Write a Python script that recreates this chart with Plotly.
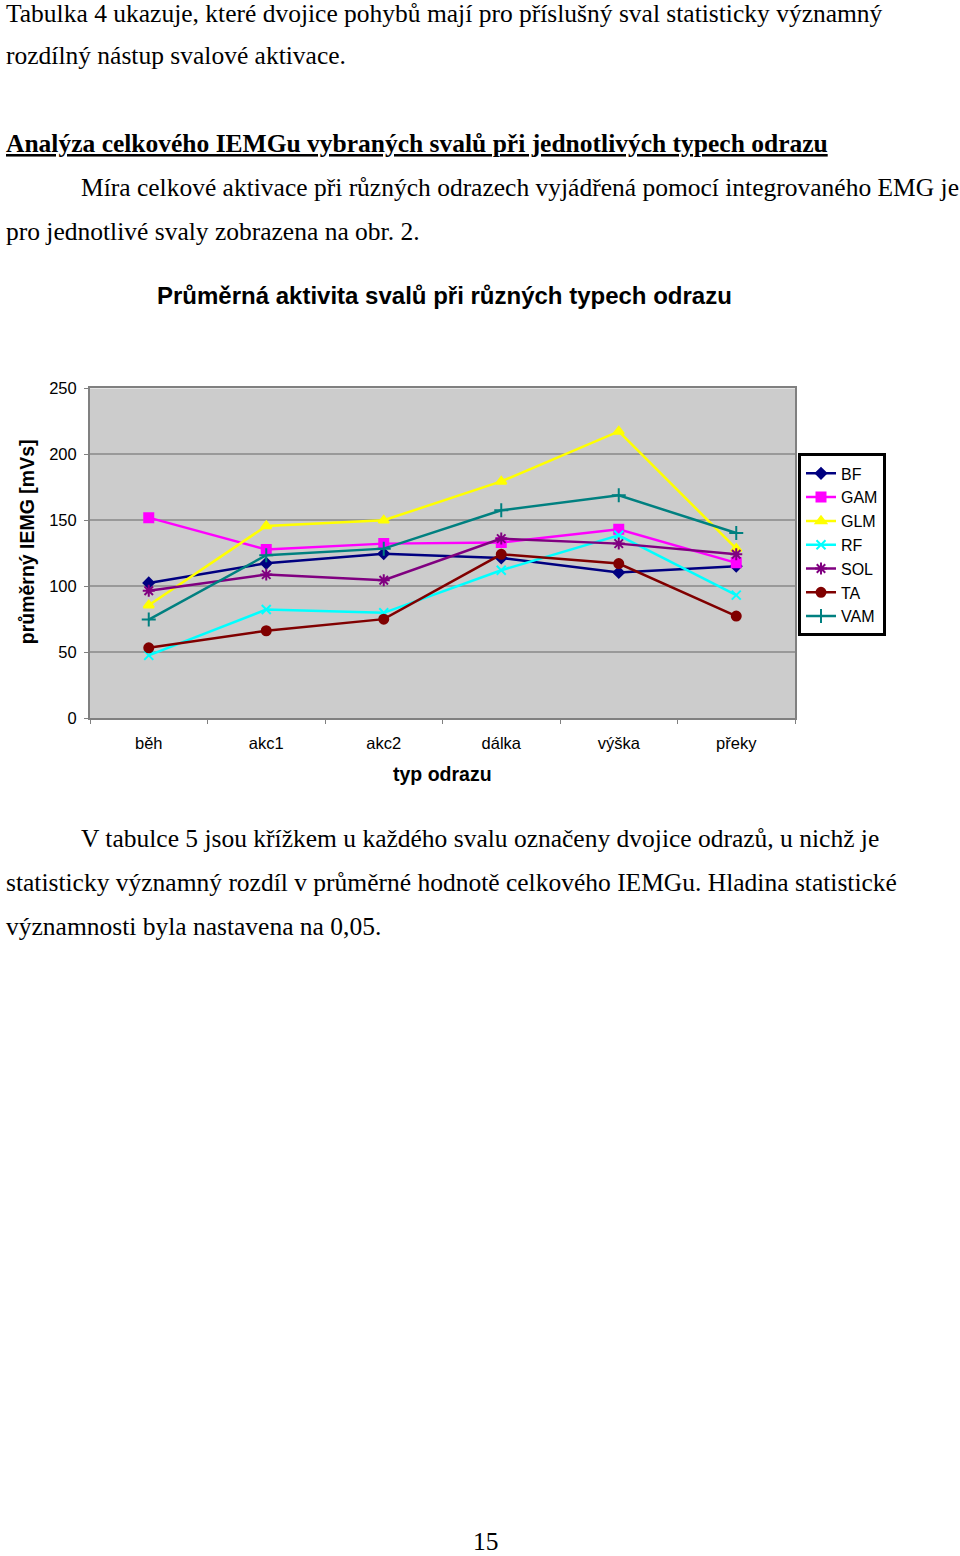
import plotly.graph_objects as go

categories = ["běh", "akc1", "akc2", "dálka", "výška", "překy"]
BF  = [102.5, 117.4, 124.7, 121.4, 110.4, 115.2]
GAM = [152.0, 127.8, 132.3, 133.1, 143.2, 117.7]
GLM = [85.6, 145.7, 150.0, 179.5, 217.4, 128.5]
RF  = [47.5, 82.3, 79.8, 112.1, 138.6, 93.2]
SOL = [96.5, 108.8, 104.5, 136.1, 132.3, 124.2]
TA  = [53.3, 66.2, 75.0, 124.2, 117.2, 77.3]
VAM = [74.7, 123.5, 128.5, 157.6, 168.9, 140.4]
y_ticks = [0, 50, 100, 150, 200, 250]

W, H = 960, 1556
# observed render mapping: rendered_y = 0.9898*fig_y + 8  -> invert
def Y(y):
    return (y - 8) / 0.9898
def px(x, y):
    return x / W, 1 - Y(y) / H

series = [
    ("BF", BF, "#000080", "diamond", 8),
    ("GAM", GAM, "#FF00FF", "square", 9),
    ("GLM", GLM, "#FFFF00", "triangle-up", 9),
    ("RF", RF, "#00FFFF", "x-thin", 9),
    ("SOL", SOL, "#800080", "asterisk", 10),
    ("TA", TA, "#800000", "circle", 9),
    ("VAM", VAM, "#008080", "cross-thin", 10),
]

fig = go.Figure()
for name, vals, col, sym, sz in series:
    fig.add_trace(go.Scatter(
        x=categories, y=vals, name=name, mode="lines+markers",
        line=dict(color=col, width=2.5),
        marker=dict(symbol=sym, size=sz, color=col, line=dict(color=col, width=2)),
    ))

x0, x1 = 90, 795
y0, y1 = 388, 718
lx, ly = px(798, 453)
fig.update_layout(
    width=W, height=H,
    margin=dict(l=0, r=0, t=0, b=0),
    paper_bgcolor="white", plot_bgcolor="#CCCCCC",
    font=dict(family="Liberation Sans, Arial", color="black"),
    showlegend=True,
    legend=dict(x=lx, y=ly, xanchor="left", yanchor="top",
                bordercolor="black", borderwidth=3, bgcolor="white",
                font=dict(size=16, family="Liberation Sans, Arial"),
                tracegroupgap=0, itemwidth=30),
    xaxis=dict(domain=[x0 / W, x1 / W], type="category", range=[-0.5, 5.5],
               showgrid=False, showline=True, linecolor="#808080", linewidth=2, mirror=True,
               ticks="outside", ticklen=4, tickcolor="#808080", tickson="boundaries",
               tickfont=dict(size=16.5), ticklabelstandoff=9),
    yaxis=dict(domain=[1 - Y(y1) / H, 1 - Y(y0) / H], range=[0, 250], tickvals=y_ticks,
               showgrid=True, gridcolor="#999999", gridwidth=1.5,
               showline=True, linecolor="#808080", linewidth=2, mirror=True,
               ticks="outside", ticklen=4, tickcolor="#808080",
               tickfont=dict(size=16.5), ticklabelstandoff=4, zeroline=False),
)

serif = "Liberation Serif, Times New Roman"
texts = [
    (5, 13, "Tabulka 4 ukazuje, které dvojice pohybů mají pro příslušný sval statisticky významný"),
    (5, 55, "rozdílný nástup svalové aktivace."),
    (5, 143, "<b><u>Analýza celkového IEMGu vybraných svalů při jednotlivých typech odrazu</u></b>"),
    (80, 187, "Míra celkové aktivace při různých odrazech vyjádřená pomocí integrovaného EMG je"),
    (5, 231, "pro jednotlivé svaly zobrazena na obr. 2."),
    (80, 839, "V tabulce 5 jsou křížkem u každého svalu označeny dvojice odrazů, u nichž je"),
    (5, 883, "statisticky významný rozdíl v průměrné hodnotě celkového IEMGu. Hladina statistické"),
    (5, 927, "významnosti byla nastavena na 0,05."),
]
for x, y, t in texts:
    ax, ay = px(x, y)
    fig.add_annotation(x=ax, y=ay, xref="paper", yref="paper", text=t, showarrow=False,
                       xanchor="left", yanchor="middle", borderpad=0,
                       font=dict(family=serif, size=25.5, color="black"))

ax, ay = px(486, 1543)
fig.add_annotation(x=ax, y=ay, xref="paper", yref="paper", text="15", showarrow=False,
                   xanchor="center", yanchor="middle", borderpad=0,
                   font=dict(family=serif, size=25.5, color="black"))

ax, ay = px(444, 295)
fig.add_annotation(x=ax, y=ay, xref="paper", yref="paper",
                   text="<b>Průměrná aktivita svalů při různých typech odrazu</b>", showarrow=False,
                   xanchor="center", yanchor="middle",
                   font=dict(family="Liberation Sans, Arial", size=24, color="black"))

ax, ay = px(442, 774)
fig.add_annotation(x=ax, y=ay, xref="paper", yref="paper",
                   text="<b>typ odrazu</b>", showarrow=False,
                   xanchor="center", yanchor="middle",
                   font=dict(family="Liberation Sans, Arial", size=19.5, color="black"))

ax, ay = px(27, 542)
fig.add_annotation(x=ax, y=ay, xref="paper", yref="paper",
                   text="<b>průměrný IEMG [mVs]</b>", showarrow=False, textangle=-90,
                   xanchor="center", yanchor="middle",
                   font=dict(family="Liberation Sans, Arial", size=19.5, color="black"))

fig.write_html("out.html", config={"displayModeBar": False},
               post_script="document.body.style.margin='0';")
